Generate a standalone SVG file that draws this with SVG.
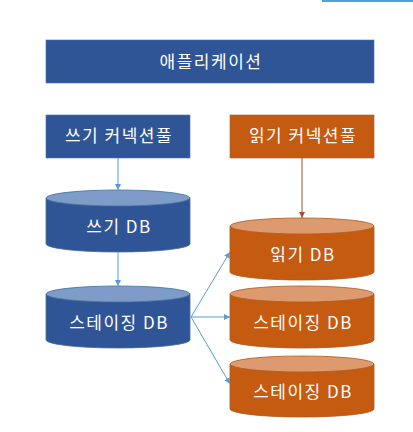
<svg xmlns="http://www.w3.org/2000/svg" width="413" height="432" viewBox="0 0 413 432">
<style>
.box-b{fill:#2f5597;stroke:#4472c4;stroke-width:0.6}
.box-o{fill:#c55a11;stroke:#ae5a21;stroke-width:0.6}
.body-b{fill:#2f5597;stroke:#41719c;stroke-width:0.8}
.top-b{fill:#7f9cc8;stroke:#41719c;stroke-width:0.8}
.body-o{fill:#c55a11;stroke:#ae5a21;stroke-width:0.8}
.top-o{fill:#dd9a6e;stroke:#ae5a21;stroke-width:0.8}
.t{fill:#ffffff;font-family:"Noto Sans CJK KR","Liberation Sans",sans-serif;font-size:17px;letter-spacing:1.5px;text-anchor:middle}
.c{fill:none;stroke:#5b9bd5;stroke-width:1}
.cr{fill:none;stroke:#a0522d;stroke-width:1}
</style>
<defs>
<marker id="ab" viewBox="0 0 10 10" refX="10" refY="5" markerWidth="6" markerHeight="6" orient="auto" markerUnits="userSpaceOnUse"><path d="M0,0 L10,5 L0,10 z" fill="#5b9bd5"/></marker>
<marker id="ar" viewBox="0 0 10 10" refX="10" refY="5" markerWidth="6" markerHeight="6" orient="auto" markerUnits="userSpaceOnUse"><path d="M0,0 L10,5 L0,10 z" fill="#a0522d"/></marker>
</defs>
<rect x="322" y="0" width="91" height="2" fill="#4aa3d8"/>
<g id="app"><rect class="box-b" x="46" y="40" width="328" height="43"/><text class="t" x="211" y="68">애플리케이션</text></g>
<g id="write-pool"><rect class="box-b" x="46" y="115" width="144" height="43"/><text class="t" x="119" y="142">쓰기 커넥션풀</text></g>
<g id="read-pool"><rect class="box-o" x="230" y="115" width="144" height="43"/><text class="t" x="303" y="142">읽기 커넥션풀</text></g>
<g id="write-db"><path class="body-b" d="M46,198 V244 A72,8 0 0 0 190,244 V198 Z"/><ellipse class="top-b" cx="118" cy="198" rx="72" ry="8"/><text class="t" x="119" y="233">쓰기 DB</text></g>
<g id="staging-db"><path class="body-b" d="M46,294 V340 A72,8 0 0 0 190,340 V294 Z"/><ellipse class="top-b" cx="118" cy="294" rx="72" ry="8"/><text class="t" x="119" y="329">스테이징 DB</text></g>
<g id="read-db"><path class="body-o" d="M230,226 V272 A72,8 0 0 0 374,272 V226 Z"/><ellipse class="top-o" cx="302" cy="226" rx="72" ry="8"/><text class="t" x="303" y="261">읽기 DB</text></g>
<g id="staging-db-1"><path class="body-o" d="M230,294 V340 A72,8 0 0 0 374,340 V294 Z"/><ellipse class="top-o" cx="302" cy="294" rx="72" ry="8"/><text class="t" x="303" y="329">스테이징 DB</text></g>
<g id="staging-db-2"><path class="body-o" d="M230,364 V409 A72,8 0 0 0 374,409 V364 Z"/><ellipse class="top-o" cx="302" cy="364" rx="72" ry="8"/><text class="t" x="303" y="398">스테이징 DB</text></g>
<g id="connectors">
<line class="c" x1="118" y1="158" x2="118" y2="190" marker-end="url(#ab)"/>
<line class="cr" x1="302" y1="158" x2="302" y2="218" marker-end="url(#ar)"/>
<line class="c" x1="118" y1="252" x2="118" y2="286" marker-end="url(#ab)"/>
<line class="c" x1="191" y1="317" x2="230" y2="252" marker-end="url(#ab)"/>
<line class="c" x1="191" y1="317" x2="230" y2="317" marker-end="url(#ab)"/>
<line class="c" x1="191" y1="317" x2="230" y2="384" marker-end="url(#ab)"/>
</g>
</svg>
